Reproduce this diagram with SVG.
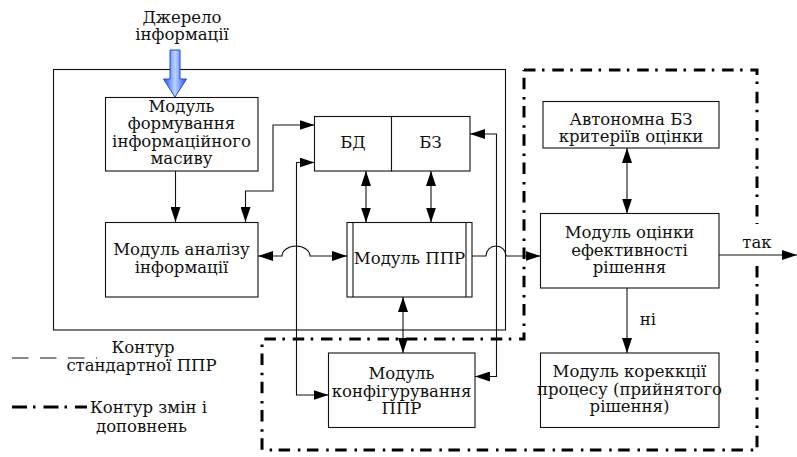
<svg xmlns="http://www.w3.org/2000/svg" width="797" height="457" viewBox="0 0 797 457">
<style>
  text { font-family: "DejaVu Serif", "Liberation Serif", serif; font-size: 16.5px; fill: #111; }
  .c { text-anchor: middle; }
  .box { fill: #fff; stroke: #111; stroke-width: 1.1; }
  .ln { fill: none; stroke: #111; stroke-width: 1.1; }
  .dd { fill: none; stroke: #000; stroke-width: 3; stroke-dasharray: 11.5 6.5 2.5 7.8; }
</style>
<defs>
  <marker id="ah" markerUnits="userSpaceOnUse" markerWidth="15" markerHeight="10" refX="15" refY="5" orient="auto-start-reverse" viewBox="0 0 15 10">
    <path d="M0,0 L15,5 L0,10 z" fill="#000"/>
  </marker>
  <linearGradient id="blue" x1="0" y1="0" x2="1" y2="0">
    <stop offset="0" stop-color="#1e50ff"/>
    <stop offset="0.5" stop-color="#bcd4ff"/>
    <stop offset="1" stop-color="#1e50ff"/>
  </linearGradient>
</defs>
<rect width="797" height="457" fill="#fff"/>

<g id="contours">
  <rect x="53.5" y="69.5" width="452" height="260.5" class="ln"/>
  <path class="dd" d="M524,70 H757 V224 M757,266 V450 H262 V339 H524 V70"/>
</g>

<g id="source">
  <text class="c" x="182" y="22.5">Джерело</text>
  <text class="c" x="182" y="40">інформації</text>
  <path d="M170,50 H180 V79 H186.5 L175,97 L163.5,79 H170 Z" fill="url(#blue)" stroke="#1f48e0" stroke-width="1"/>
</g>

<g id="n-form">
  <rect class="box" x="105.5" y="97.5" width="152.5" height="73.5"/>
  <text class="c" x="181.5" y="111.5">Модуль</text>
  <text class="c" x="181.5" y="129">формування</text>
  <text class="c" x="181.5" y="146.5">інформаційного</text>
  <text class="c" x="181.5" y="164">масиву</text>
</g>

<g id="n-analiz">
  <rect class="box" x="105.5" y="222.5" width="152.5" height="74.5"/>
  <text class="c" x="181.5" y="255">Модуль аналізу</text>
  <text class="c" x="181.5" y="272.5">інформації</text>
</g>

<g id="n-bd">
  <rect class="box" x="314.5" y="116.5" width="77" height="54.5"/>
  <text class="c" x="353" y="148">БД</text>
</g>
<g id="n-bz">
  <rect class="box" x="391.5" y="116.5" width="78.5" height="54.5"/>
  <text class="c" x="430.5" y="148">БЗ</text>
</g>

<g id="n-ppr">
  <rect class="box" x="347" y="222.5" width="125" height="74.5"/>
  <line class="ln" x1="353" y1="222.5" x2="353" y2="297"/>
  <line class="ln" x1="466" y1="222.5" x2="466" y2="297"/>
  <text class="c" x="409.5" y="264">Модуль ППР</text>
</g>

<g id="n-config">
  <rect class="box" x="328.5" y="353" width="146.5" height="74.5"/>
  <text class="c" x="401.5" y="379">Модуль</text>
  <text class="c" x="401.5" y="396.5">конфігурування</text>
  <text class="c" x="401.5" y="414">ППР</text>
</g>

<g id="n-auto">
  <rect class="box" x="543" y="101.5" width="176" height="46.5"/>
  <text class="c" x="631" y="124.5">Автономна БЗ</text>
  <text class="c" x="631" y="142">критеріїв оцінки</text>
</g>

<g id="n-ocinka">
  <rect class="box" x="540.5" y="213.5" width="178.5" height="74.5"/>
  <text class="c" x="629.5" y="238">Модуль оцінки</text>
  <text class="c" x="629.5" y="255.5">ефективності</text>
  <text class="c" x="629.5" y="273">рішення</text>
</g>

<g id="n-korek">
  <rect class="box" x="540.5" y="353" width="178.5" height="74.5"/>
  <text class="c" x="629.5" y="377">Модуль кореккції</text>
  <text class="c" x="629.5" y="394.5">процесу (прийнятого</text>
  <text class="c" x="629.5" y="412">рішення)</text>
</g>

<g id="connectors">
  <path class="ln" d="M175.5,171 V222" marker-end="url(#ah)"/>
  <path class="ln" d="M314.5,125 H273 V191 H245.5 V222" marker-start="url(#ah)" marker-end="url(#ah)"/>
  <path class="ln" d="M314.5,162.5 H296.5 V395 H328.5" marker-start="url(#ah)" marker-end="url(#ah)"/>
  <path class="ln" d="M470,134 H496.5 V376.5 H475" marker-start="url(#ah)" marker-end="url(#ah)"/>
  <path class="ln" d="M366,171 V222.5" marker-start="url(#ah)" marker-end="url(#ah)"/>
  <path class="ln" d="M431,171 V222.5" marker-start="url(#ah)" marker-end="url(#ah)"/>
  <path class="ln" d="M258,256 H282 A14,10 0 0 1 310,256 H347" marker-start="url(#ah)" marker-end="url(#ah)"/>
  <path class="ln" d="M472,256 H486 A10,10 0 0 1 506,256 H540.5" marker-end="url(#ah)"/>
  <path class="ln" d="M403,297 V353" marker-start="url(#ah)" marker-end="url(#ah)"/>
  <path class="ln" d="M627,148 V213.5" marker-start="url(#ah)" marker-end="url(#ah)"/>
  <path class="ln" d="M719,255 H797" marker-end="url(#ah)"/>
  <path class="ln" d="M627,288 V353" marker-end="url(#ah)"/>
  <text class="c" x="757" y="248">так</text>
  <text class="c" x="648" y="325">ні</text>
</g>

<g id="legend">
  <path d="M12,358 H97" fill="none" stroke="#111" stroke-width="1.1" stroke-dasharray="16.5 11.5"/>
  <text class="c" x="143" y="353">Контур</text>
  <text class="c" x="141.5" y="371">стандартної ППР</text>
  <path d="M12,407 H87" fill="none" stroke="#000" stroke-width="3" stroke-dasharray="15 6 2.5 8"/>
  <text x="90" y="413">Контур змін і</text>
  <text class="c" x="141.5" y="432">доповнень</text>
</g>
</svg>
